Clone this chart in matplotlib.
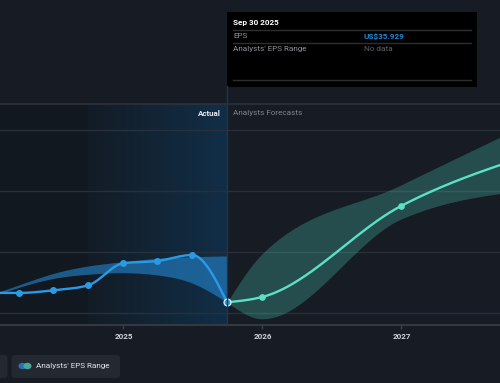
import numpy as np
import pandas as pd
import matplotlib
matplotlib.use("Agg")
import matplotlib.pyplot as plt
from matplotlib.patches import Rectangle, FancyBboxPatch, Circle
from matplotlib.lines import Line2D
from matplotlib.colors import LinearSegmentedColormap

# ---- data ----
actual_dates = ["2023-12-31", "2024-03-31", "2024-06-30", "2024-09-30",
                "2024-12-31", "2025-03-31", "2025-06-30", "2025-09-30"]
actual_eps = [67.5, 66.6, 75.4, 91.8, 163.9, 171.5, 191.1, 35.929]
past_range_hi = [53.4, 92.8, 130.5, 155.1, 169.2, 180.3, 185.6, 187.9]
past_range_lo = [46.9, 84.6, 114.1, 127.9, 133.1, 125.6, 99.3, 35.929]

fc_dates = ["2025-09-30", "2025-12-31", "2026-12-31", "2027-12-31"]
fc_eps = [35.929, 53.4, 351.8, 529.0]
fc_hi = [35.929, 195.0, 421.0, 640.0]
fc_lo = [35.929, -18.0, 309.0, 408.0]

year_ticks = [2025, 2026, 2027]
highlight_start = "2024-09-30"

FONT = ["Roboto", "DejaVu Sans"]
plt.rcParams["font.family"] = FONT


def dec_year(s):
    d = pd.Timestamp(s)
    start = pd.Timestamp(year=d.year, month=1, day=1)
    days = 366 if d.is_leap_year else 365
    return d.year + (d - start).days / days


def hermite(x, y, m, n=200):
    xs, ys = [], []
    h = np.diff(x)
    for i in range(len(h)):
        t = np.linspace(0, 1, n)
        h00 = 2 * t**3 - 3 * t**2 + 1
        h10 = t**3 - 2 * t**2 + t
        h01 = -2 * t**3 + 3 * t**2
        h11 = t**3 - t**2
        xs.append(x[i] + t * h[i])
        ys.append(h00 * y[i] + h10 * h[i] * m[i] + h01 * y[i + 1] + h11 * h[i] * m[i + 1])
    return np.concatenate(xs), np.concatenate(ys)


def monotone(x, y):
    # d3 style monotoneX curve
    x = np.asarray(x, float)
    y = np.asarray(y, float)
    h = np.diff(x)
    s = np.diff(y) / h
    m = np.zeros_like(y)
    for i in range(1, len(y) - 1):
        if s[i - 1] * s[i] <= 0:
            m[i] = 0
        else:
            p = (s[i - 1] * h[i] + s[i] * h[i - 1]) / (h[i - 1] + h[i])
            m[i] = np.sign(s[i]) * min(2 * abs(s[i - 1]), 2 * abs(s[i]), abs(p))
    m[0] = 1.5 * s[0] - 0.5 * m[1]
    m[-1] = 1.5 * s[-1] - 0.5 * m[-2]
    return hermite(x, y, m)


def natural(x, y):
    # natural cubic spline, expressed as hermite tangents
    x = np.asarray(x, float)
    y = np.asarray(y, float)
    n = len(x)
    h = np.diff(x)
    A = np.zeros((n, n))
    b = np.zeros(n)
    A[0, 0] = A[-1, -1] = 1
    for i in range(1, n - 1):
        A[i, i - 1] = h[i - 1]
        A[i, i] = 2 * (h[i - 1] + h[i])
        A[i, i + 1] = h[i]
        b[i] = 6 * ((y[i + 1] - y[i]) / h[i] - (y[i] - y[i - 1]) / h[i - 1])
    M = np.linalg.solve(A, b)
    m = np.zeros(n)
    for i in range(n - 1):
        m[i] = (y[i + 1] - y[i]) / h[i] - h[i] * (2 * M[i] + M[i + 1]) / 6
    m[-1] = (y[-1] - y[-2]) / h[-1] + h[-1] * (M[-2] + 2 * M[-1]) / 6
    return hermite(x, y, m)


ax_x = [dec_year(d) for d in actual_dates]
fx = [dec_year(d) for d in fc_dates]
hl0 = dec_year(highlight_start)
now = ax_x[-1]

BG = "#161b24"
W, H = 500, 383
fig = plt.figure(figsize=(5, 3.83), dpi=100, facecolor=BG)
ax = fig.add_axes([0, 1 - 325 / H, 1, (325 - 104) / H])
ax.set_facecolor(BG)
x0, x1 = 2024.1115, 2027.709
y0, y1 = -38.4, 686.2
ax.set_xlim(x0, x1)
ax.set_ylim(y0, y1)

# background regions
ax.add_patch(Rectangle((x0, y0), hl0 - x0, y1 - y0, color="#121820", zorder=0, lw=0))
grad = np.linspace(0, 1, 256).reshape(1, -1)
cmap = LinearSegmentedColormap.from_list("hl", ["#131c26", "#112e47"])
ax.imshow(grad, extent=[hl0, now, y0, y1], aspect="auto", cmap=cmap, zorder=0.5)

for g in [0, 200, 400, 600]:
    ax.axhline(g, color="#2a3039", lw=1, zorder=1)

# past range band
bx, bhi = natural(ax_x, past_range_hi)
_, blo = natural(ax_x, past_range_lo)
ax.fill_between(bx, blo, bhi, color="#2487d0", alpha=0.6, lw=0, zorder=2)

# forecast band
fxs, fhi = monotone(fx, fc_hi)
_, flo = monotone(fx, fc_lo)
ax.fill_between(fxs, flo, fhi, color="#4fd1b8", alpha=0.28, lw=0, zorder=2)

# lines
lx, ly = monotone(ax_x, actual_eps)
ax.plot(lx, ly, color="#2b9ae6", lw=1.7, zorder=4, solid_capstyle="round")
ax.plot(ax_x[:-1], actual_eps[:-1], "o", color="#2b9ae6", ms=4, zorder=5)
fxl, fyl = monotone(fx, fc_eps)
ax.plot(fxl, fyl, color="#5ce0c6", lw=1.7, zorder=4)
ax.plot(fx[1:], fc_eps[1:], "o", color="#5ce0c6", ms=3.8, zorder=5)
ax.plot([now], [actual_eps[-1]], "o", color="#2b9ae6", mec="#e8eef4", mew=0.9, ms=5, zorder=6)

for s in ["left", "right", "top"]:
    ax.spines[s].set_visible(False)
ax.spines["bottom"].set_color("#333942")
ax.spines["bottom"].set_linewidth(1.5)
ax.set_yticks([])
ax.set_xticks(year_ticks)
ax.set_xticklabels([str(t) for t in year_ticks])
ax.tick_params(axis="x", colors="#3a404a", length=3, width=1, pad=3,
               labelcolor="#d0d4da", labelsize=5.8)
for lab in ax.get_xticklabels():
    lab.set_fontweight("bold")


def fy(py):
    return 1 - py / H


def fxp(px):
    return px / W


# top line and divider
fig.add_artist(Line2D([0, 1], [fy(104), fy(104)], color="#2c323b", lw=1.2))
fig.add_artist(Line2D([fxp(227), fxp(227)], [fy(86), fy(325)], color="#22364a", lw=1))

fig.text(fxp(221), fy(113), "Actual", ha="right", va="center",
         color="#e8eaee", fontsize=5.8, fontweight="bold")
fig.text(fxp(233), fy(113), "Analysts Forecasts", ha="left",
         va="center", color="#7d848e", fontsize=5.9)

# tooltip
fig.add_artist(Rectangle((fxp(227), fy(86.7)), fxp(250), (86.7 - 12) / H, color="black", lw=0))
for yy in [30.3, 43, 80]:
    fig.add_artist(Line2D([fxp(233), fxp(471)], [fy(yy), fy(yy)], color="#2e2e2e", lw=1))
fig.text(fxp(233), fy(23), "Sep 30 2025", color="white", fontsize=5.9, fontweight="bold", va="center")
fig.text(fxp(233), fy(36.5), "EPS", color="#8e9298", fontsize=5.9, va="center")
fig.text(fxp(364), fy(36.5), "US$35.929", color="#1e88d8", fontsize=5.9, fontweight="bold", va="center")
fig.text(fxp(233), fy(49), "Analysts' EPS Range", color="#8e9298", fontsize=5.9, va="center")
fig.text(fxp(364), fy(49), "No data", color="#5e6268", fontsize=5.9, va="center")

# legend
fig.add_artist(FancyBboxPatch((fxp(-20), fy(378)), fxp(27.5), 23 / H,
                              boxstyle="round,pad=0,rounding_size=0.008", color="#232831", lw=0))
fig.add_artist(FancyBboxPatch((fxp(11.5), fy(378)), fxp(108.5), 23 / H,
                              boxstyle="round,pad=0,rounding_size=0.008", color="#232831", lw=0))
fig.add_artist(Circle((fxp(22.5), fy(366)), 3.3 / W, color="#2a73b3",
                      transform=fig.transFigure))
fig.add_artist(Circle((fxp(27.5), fy(366)), 3.3 / W, color="#4aa89a",
                      transform=fig.transFigure))
fig.text(fxp(36), fy(366), "Analysts' EPS Range", color="#e2e4e8", fontsize=5.9, va="center")

fig.savefig("out.png", dpi=100, facecolor=BG)
